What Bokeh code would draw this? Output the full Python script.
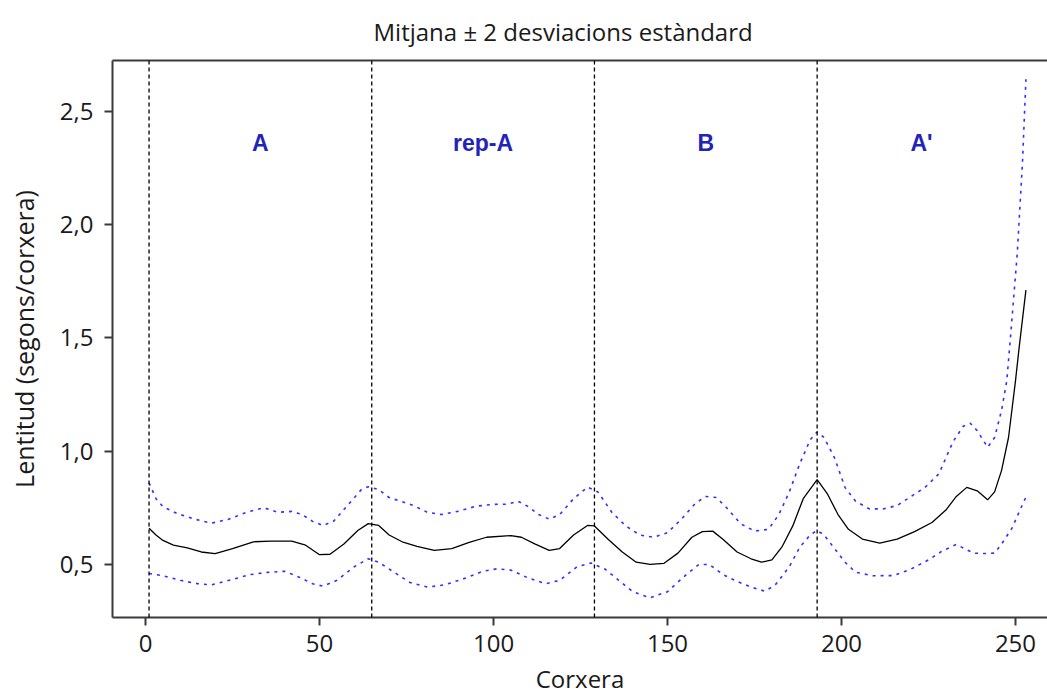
from bokeh.plotting import figure
from bokeh.models import Range1d, FixedTicker, LinearAxis, Span, ColumnDataSource
from bokeh.core.properties import value
from bokeh.embed import file_html
from bokeh.resources import INLINE

# ---------------- data ----------------
mean_x = [1, 3, 5, 8, 12, 16, 20, 25, 31, 36, 42, 46, 50, 53, 57, 61, 64, 67, 70, 74,
          78, 83, 88, 93, 98, 105, 108, 112, 116, 119, 123, 127, 129, 133, 137, 141, 145,
          149, 153, 157, 160, 163, 166, 170, 174, 177, 180, 183, 186, 189, 193, 196, 199,
          202, 206, 211, 216, 221, 226, 230, 233, 236, 239, 242, 244, 246, 248, 250, 251,
          252, 253]
mean_y = [0.66, 0.63, 0.606, 0.585, 0.573, 0.555, 0.548, 0.57, 0.60, 0.603, 0.603, 0.585,
          0.543, 0.545, 0.59, 0.65, 0.68, 0.672, 0.63, 0.598, 0.58, 0.562, 0.57, 0.597,
          0.62, 0.627, 0.62, 0.59, 0.562, 0.57, 0.63, 0.672, 0.67, 0.61, 0.555, 0.51, 0.50,
          0.505, 0.55, 0.62, 0.645, 0.647, 0.61, 0.555, 0.525, 0.51, 0.52, 0.58, 0.67,
          0.79, 0.874, 0.81, 0.72, 0.655, 0.612, 0.594, 0.612, 0.645, 0.685, 0.74, 0.80,
          0.84, 0.825, 0.785, 0.82, 0.915, 1.06, 1.31, 1.45, 1.58, 1.71]

upper_x = [1, 3, 5, 9, 14, 19, 24, 29, 34, 38, 42, 45, 48, 51, 54, 58, 62, 64, 67, 70, 73,
           77, 81, 85, 90, 95, 100, 104, 107, 110, 113, 116, 119, 123, 127, 130, 134, 138,
           142, 146, 150, 154, 158, 161, 164, 167, 171, 175, 179, 182, 185, 188, 191, 193,
           195, 198, 201, 204, 208, 212, 216, 220, 224, 228, 232, 235, 237, 239, 242, 244,
           246, 247.5, 248.5, 250.5, 252, 253]
upper_y = [0.86, 0.79, 0.755, 0.725, 0.70, 0.682, 0.70, 0.73, 0.75, 0.73, 0.734, 0.72,
           0.69, 0.672, 0.69, 0.76, 0.83, 0.843, 0.83, 0.795, 0.78, 0.76, 0.73, 0.72,
           0.735, 0.757, 0.765, 0.766, 0.779, 0.755, 0.72, 0.70, 0.72, 0.79, 0.841, 0.82,
           0.73, 0.67, 0.63, 0.62, 0.64, 0.70, 0.77, 0.80, 0.795, 0.75, 0.68, 0.647, 0.655,
           0.72, 0.82, 0.944, 1.05, 1.085, 1.06, 0.97, 0.84, 0.78, 0.745, 0.745, 0.76, 0.80,
           0.84, 0.90, 1.04, 1.11, 1.123, 1.09, 1.017, 1.06, 1.18, 1.31, 1.49, 1.87, 2.27,
           2.64]

lower_x = [1, 5, 10, 15, 19, 24, 30, 35, 40, 44, 48, 51, 55, 60, 64, 67, 71, 76, 81, 86,
           92, 97, 101, 105, 110, 115, 119, 124, 128, 132, 136, 140, 145, 150, 155, 159,
           162, 166, 170, 174, 178, 181, 185, 188, 191, 193, 195, 198, 201, 204, 209, 215,
           220, 225, 229, 233, 236, 238, 241, 244, 246, 249, 251, 253]
lower_y = [0.46, 0.45, 0.43, 0.415, 0.41, 0.43, 0.455, 0.465, 0.47, 0.445, 0.415, 0.404,
           0.43, 0.49, 0.525, 0.51, 0.47, 0.42, 0.40, 0.41, 0.44, 0.47, 0.481, 0.475, 0.44,
           0.415, 0.43, 0.49, 0.506, 0.48, 0.43, 0.38, 0.353, 0.38, 0.45, 0.50, 0.50, 0.455,
           0.425, 0.40, 0.382, 0.41, 0.49, 0.576, 0.63, 0.65, 0.63, 0.57, 0.51, 0.466, 0.45,
           0.451, 0.48, 0.52, 0.56, 0.588, 0.565, 0.55, 0.548, 0.55, 0.59, 0.66, 0.73, 0.797]

section_bounds = [1, 65, 129, 193, 253]
section_names = ["A", "rep-A", "B", "A'"]
section_label_y = 2.36

x_ticks = [0, 50, 100, 150, 200, 250]
y_ticks = [0.5, 1.0, 1.5, 2.0, 2.5]
y_tick_labels = ["0,5", "1,0", "1,5", "2,0", "2,5"]

title_text = "Mitjana \u00b1 2 desviacions est\u00e0ndard"
x_label = "Corxera"
y_label = "Lentitud (segons/corxera)"

# ---------------- figure ----------------
FONT = "Open Sans"
AXIS_COL = "#3a3a3a"

p = figure(width=1047, height=698, output_backend="svg", toolbar_location=None,
           x_range=Range1d(-9.5, 259.2), y_range=Range1d(0.266, 2.723),
           min_border_left=112, min_border_right=0, min_border_top=60,
           min_border_bottom=81, background_fill_color="white",
           border_fill_color="white")
p.outline_line_color = None
p.grid.visible = False

p.title.text = title_text
p.title.text_font = FONT
p.title.text_font_size = "24px"
p.title.text_font_style = "normal"
p.title.text_color = "#1a1a1a"
p.title.align = "left"
p.title.offset = 261
p.title.standoff = 25

for ax in (p.xaxis[0], p.yaxis[0]):
    ax.axis_line_color = AXIS_COL
    ax.axis_line_width = 2
    ax.major_tick_line_color = AXIS_COL
    ax.major_tick_line_width = 2
    ax.major_tick_out = 8
    ax.major_tick_in = 0
    ax.minor_tick_line_color = None
    ax.major_label_text_font = FONT
    ax.major_label_text_font_size = "24px"
    ax.major_label_text_color = "#1a1a1a"
    ax.axis_label_text_font = FONT
    ax.axis_label_text_font_style = "normal"
    ax.axis_label_text_color = "#1a1a1a"

p.xaxis.ticker = FixedTicker(ticks=x_ticks)
p.yaxis.ticker = FixedTicker(ticks=y_ticks)
p.yaxis.major_label_overrides = {t: l for t, l in zip(y_ticks, y_tick_labels)}
p.xaxis.axis_label = x_label
p.yaxis.axis_label = y_label
p.xaxis.axis_label_text_font_size = "24px"
p.yaxis.axis_label_text_font_size = "25px"
p.xaxis.major_label_standoff = 9
p.xaxis.axis_label_standoff = 7
p.yaxis.major_label_standoff = 11
p.yaxis.axis_label_standoff = 16

top_axis = LinearAxis(ticker=FixedTicker(ticks=[]), axis_line_color=AXIS_COL,
                      axis_line_width=2, major_tick_line_color=None,
                      minor_tick_line_color=None, major_label_text_font_size="0px",
                      major_label_standoff=0)
p.add_layout(top_axis, "above")

# section boundaries
for b in section_bounds[:-1]:
    p.add_layout(Span(location=b, dimension="height", line_color="black",
                      line_width=1.3, line_dash="4 3"))

# curves
p.line(upper_x, upper_y, line_color="#3030ff", line_width=1.6, line_dash="3 5")
p.line(lower_x, lower_y, line_color="#3030ff", line_width=1.6, line_dash="3 5")
p.line(mean_x, mean_y, line_color="black", line_width=1.3)

# section labels
centers = [(a + b) / 2 for a, b in zip(section_bounds[:-1], section_bounds[1:])]
src = ColumnDataSource(dict(x=centers, y=[section_label_y] * len(centers),
                            t=section_names))
p.text(x="x", y="y", text="t", source=src, text_font=value("Liberation Sans"),
       text_font_style="bold", text_font_size="23px", text_color="#2323b8",
       text_align="center", text_baseline="middle")

open("out.html", "w").write(file_html(p, INLINE))
